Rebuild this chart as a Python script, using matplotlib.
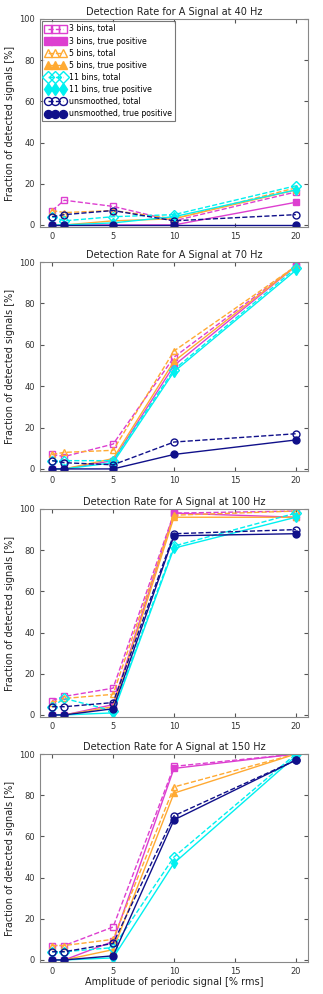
import numpy as np
import matplotlib
matplotlib.use("Agg")
import matplotlib.pyplot as plt

# amplitude of the periodic signal [% rms]
amplitudes = [0, 1, 5, 10, 20]
frequencies = [40, 70, 100, 150]

# detection fractions [%], one list per frequency
bins3_total = [[7, 12, 9, 2, 16], [7, 6, 12, 54, 98], [7, 9, 13, 98, 99], [7, 7, 16, 94, 100]]
bins3_tp = [[0, 0, 0, 0, 11], [0, 0, 4, 50, 98], [0, 0, 5, 98, 96], [0, 0, 9, 93, 100]]
bins5_total = [[7, 6, 7, 3, 18], [7, 8, 9, 57, 98], [6, 8, 10, 97, 99], [7, 7, 10, 84, 100]]
bins5_tp = [[0, 0, 2, 3, 17], [0, 0, 5, 52, 98], [0, 0, 4, 96, 96], [0, 0, 5, 81, 100]]
bins11_total = [[4, 2, 4, 5, 19], [4, 4, 4, 48, 97], [4, 8, 2, 82, 98], [4, 4, 6, 50, 100]]
bins11_tp = [[0, 0, 1, 4, 17], [0, 0, 3, 47, 96], [0, 0, 1, 81, 96], [0, 0, 1, 47, 99]]
unsm_total = [[4, 5, 7, 2, 5], [4, 3, 2, 13, 17], [4, 4, 6, 88, 90], [4, 4, 8, 70, 97]]
unsm_tp = [[0, 0, 0, 0, 0], [0, 0, 0, 7, 14], [0, 0, 3, 87, 88], [0, 0, 2, 68, 97]]

magenta = '#dd3fd0'
orange = '#ffaa33'
cyan = '#00f0f0'
navy = '#10108a'

# (data, label, colour, marker, filled, linestyle)
series = [
    (bins3_total, '3 bins, total', magenta, 's', False, '--'),
    (bins3_tp, '3 bins, true positive', magenta, 's', True, '-'),
    (bins5_total, '5 bins, total', orange, '^', False, '--'),
    (bins5_tp, '5 bins, true positive', orange, '^', True, '-'),
    (bins11_total, '11 bins, total', cyan, 'D', False, '--'),
    (bins11_tp, '11 bins, true positive', cyan, 'd', True, '-'),
    (unsm_total, 'unsmoothed, total', navy, 'o', False, '--'),
    (unsm_tp, 'unsmoothed, true positive', navy, 'o', True, '-'),
]

fig = plt.figure(figsize=(3.23, 9.94), dpi=100)
# axes boxes in figure pixels: (top, bottom)
boxes = [(19, 227), (262, 471), (509, 717), (754, 962)]
W, H = 323., 994.
left, right = 40, 308

for k, freq in enumerate(frequencies):
    top, bot = boxes[k]
    ax = fig.add_axes([left / W, 1 - bot / H, (right - left) / W, (bot - top) / H])
    for data, label, col, mk, filled, ls in series:
        ax.plot(amplitudes, data[k], linestyle=ls, color=col, lw=1.0,
                marker=mk, ms=5 if mk != 'd' else 5.5,
                mfc=col if filled else 'none', mec=col, mew=1.0,
                label=label)
    ax.set_xlim(-1, 21)
    ax.set_ylim(-1, 100)
    ax.set_xticks([0, 5, 10, 15, 20])
    ax.set_yticks([0, 20, 40, 60, 80, 100])
    ax.tick_params(direction='in', labelsize=6, length=3, colors='#555555',
                   labelcolor='#333333', top=True, right=True)
    for sp in ax.spines.values():
        sp.set_color('#888888')
    ax.set_title('Detection Rate for A Signal at %d Hz' % freq, fontsize=7,
                 color='#222222', pad=3)
    ax.set_ylabel('Fraction of detected signals [%]', fontsize=7, color='#222222',
                  labelpad=3)
    if k == 0:
        leg = ax.legend(loc='upper left', fontsize=5.6, numpoints=3, frameon=True,
                        fancybox=False, handlelength=2.5, borderpad=0.4,
                        labelspacing=0.4, handletextpad=0.5, borderaxespad=0.3,
                        markerscale=1.15)
        leg.get_frame().set_edgecolor('#555555')
        leg.get_frame().set_linewidth(0.8)
    if k == len(frequencies) - 1:
        ax.set_xlabel('Amplitude of periodic signal [% rms]', fontsize=7,
                      color='#222222', labelpad=1)

fig.savefig('out.png', dpi=100)
